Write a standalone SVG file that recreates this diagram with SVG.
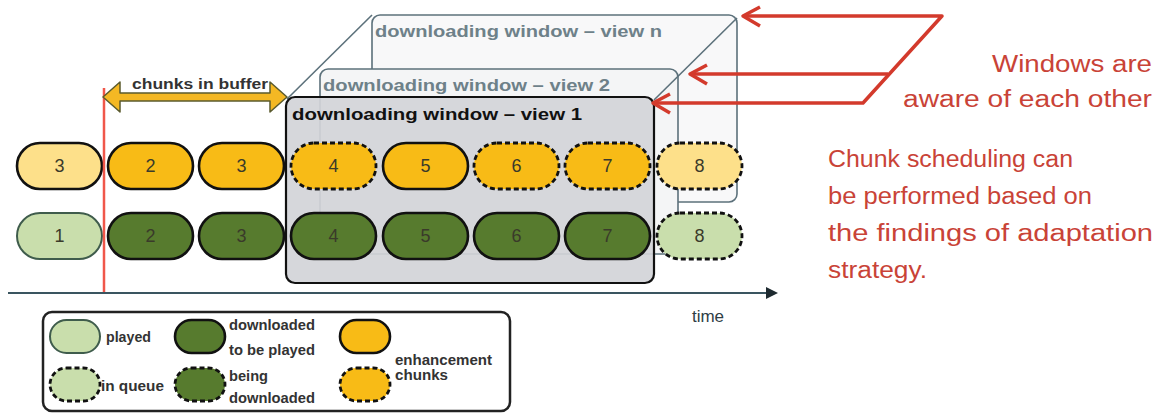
<svg xmlns="http://www.w3.org/2000/svg" width="1169" height="414" viewBox="0 0 1169 414">
<style>
.win{stroke:#5c717b;stroke-width:1.6}
.wl{font-family:"Liberation Sans",Arial,sans-serif;font-weight:bold;font-size:16px}
.num{font-family:"Liberation Sans",Arial,sans-serif;font-size:18px;fill:#3a3a2a;text-anchor:middle}
.pill{stroke:#111;stroke-width:2.6}
.dash{stroke-dasharray:5 3;stroke-width:2.8}
.ly{fill:#fde08a}.yy{fill:#f8bb16}.lg{fill:#c9deac}.dg{fill:#577b2e}
.leg{font-family:"Liberation Sans",Arial,sans-serif;font-weight:bold;font-size:15px;fill:#333}
.red{font-family:"Liberation Sans",Arial,sans-serif;font-size:23px;fill:#c94337}
.ra{stroke:#d33a2c;stroke-width:3.5;fill:none;stroke-linejoin:round}
</style>
<defs>
<marker id="ah" markerWidth="12" markerHeight="12" refX="10" refY="6" orient="auto" markerUnits="userSpaceOnUse">
<path d="M0,0 L12,6 L0,12 Z" fill="#1e2a30"/>
</marker>
</defs>
<rect width="1169" height="414" fill="#ffffff"/>

<g id="view-n">
<rect class="win" x="372" y="15" width="365" height="187" rx="8" fill="#f8f8f9"/>
<text class="wl" x="375" y="37" fill="#6e8189" textLength="287" lengthAdjust="spacingAndGlyphs">downloading window – view n</text>
</g>
<g id="view-2">
<rect class="win" x="320" y="69" width="358" height="185" rx="8" fill="#f4f5f6"/>
<text class="wl" x="323" y="91" fill="#6e8189" textLength="287" lengthAdjust="spacingAndGlyphs">downloading window – view 2</text>
</g>
<g id="edges">
<line class="win" x1="372" y1="15" x2="287" y2="99"/>
<line class="win" x1="737" y1="18" x2="654" y2="100"/>
</g>
<g id="view-1">
<rect x="286" y="97" width="368" height="186" rx="9" fill="#d2d4d8" fill-opacity="0.92" stroke="#111" stroke-width="2.2"/>
<text class="wl" x="292" y="120" fill="#111" textLength="290" lengthAdjust="spacingAndGlyphs">downloading window – view 1</text>
</g>

<g id="row-enhancement">
<rect class="pill ly" x="17" y="143" width="85" height="46" rx="23"/><text class="num" x="59.5" y="172">3</text>
<rect class="pill yy" x="108" y="143" width="85" height="46" rx="23"/><text class="num" x="150.5" y="172">2</text>
<rect class="pill yy" x="199" y="143" width="85" height="46" rx="23"/><text class="num" x="241.5" y="172">3</text>
<rect class="pill yy dash" x="291" y="143" width="85" height="46" rx="23"/><text class="num" x="333.5" y="172">4</text>
<rect class="pill yy" x="383" y="143" width="85" height="46" rx="23"/><text class="num" x="425.5" y="172">5</text>
<rect class="pill yy dash" x="474" y="143" width="85" height="46" rx="23"/><text class="num" x="516.5" y="172">6</text>
<rect class="pill yy dash" x="565" y="143" width="85" height="46" rx="23"/><text class="num" x="607.5" y="172">7</text>
<rect class="pill ly dash" x="657" y="143" width="85" height="46" rx="23"/><text class="num" x="699.5" y="172">8</text>
</g>
<g id="row-base">
<rect class="lg" x="17" y="213" width="85" height="46" rx="23" stroke="#3f5c4c" stroke-width="2"/><text class="num" x="59.5" y="242">1</text>
<rect class="pill dg" x="108" y="213" width="85" height="46" rx="23"/><text class="num" x="150.5" y="242">2</text>
<rect class="pill dg" x="199" y="213" width="85" height="46" rx="23"/><text class="num" x="241.5" y="242">3</text>
<rect class="pill dg" x="291" y="213" width="85" height="46" rx="23"/><text class="num" x="333.5" y="242">4</text>
<rect class="pill dg" x="383" y="213" width="85" height="46" rx="23"/><text class="num" x="425.5" y="242">5</text>
<rect class="pill dg" x="474" y="213" width="85" height="46" rx="23"/><text class="num" x="516.5" y="242">6</text>
<rect class="pill dg" x="565" y="213" width="85" height="46" rx="23"/><text class="num" x="607.5" y="242">7</text>
<rect class="pill lg dash" x="657" y="213" width="85" height="46" rx="23"/><text class="num" x="699.5" y="242">8</text>
</g>

<g id="connectors">
<line x1="104" y1="88" x2="104" y2="293" stroke="#f0574a" stroke-width="2.5"/>
<line x1="8" y1="293" x2="776" y2="293" stroke="#3a5560" stroke-width="2" marker-end="url(#ah)"/>
<polygon points="103,97 120,82 120,93 270,93 270,82 287,97 270,112 270,101 120,101 120,112" fill="#f4b824" stroke="#5b5b2e" stroke-width="1.5" stroke-linejoin="round"/>
<path class="ra" d="M743,16 L942,16 L863,103 L653,103"/>
<path class="ra" d="M690,74 L888,74"/>
<path class="ra" d="M760,7 L743,16 L760,26"/>
<path class="ra" d="M707,65 L690,74 L707,84"/>
<path class="ra" d="M670,94 L653,103 L670,113"/>
</g>

<g id="labels">
<text class="leg" x="132" y="89" textLength="136" lengthAdjust="spacingAndGlyphs">chunks in buffer</text>
<text x="708" y="322" font-family="Liberation Sans, Arial, sans-serif" font-size="17" fill="#2f3e46" text-anchor="middle">time</text>
</g>

<g id="notes">
<text class="red" x="1152" y="72" text-anchor="end" textLength="160" lengthAdjust="spacingAndGlyphs">Windows are</text>
<text class="red" x="1152" y="107" text-anchor="end" textLength="249" lengthAdjust="spacingAndGlyphs">aware of each other</text>
<text class="red" x="828" y="167" textLength="245" lengthAdjust="spacingAndGlyphs">Chunk scheduling can</text>
<text class="red" x="828" y="204" textLength="264" lengthAdjust="spacingAndGlyphs">be performed  based on</text>
<text class="red" x="828" y="241" textLength="325" lengthAdjust="spacingAndGlyphs">the findings of adaptation</text>
<text class="red" x="828" y="278" textLength="99" lengthAdjust="spacingAndGlyphs">strategy.</text>
</g>

<g id="legend">
<rect x="43" y="312" width="467" height="99" rx="9" fill="#fff" stroke="#222" stroke-width="2.5"/>
<rect class="lg" x="50" y="320" width="50" height="33" rx="16.5" stroke="#3f5c4c" stroke-width="2"/>
<rect class="pill lg dash" x="50" y="368" width="50" height="33" rx="16.5"/>
<rect class="pill dg" x="175" y="320" width="50" height="33" rx="16.5"/>
<rect class="pill dg dash" x="175" y="368" width="50" height="33" rx="16.5"/>
<rect class="pill yy" x="340" y="320" width="50" height="33" rx="16.5"/>
<rect class="pill yy dash" x="340" y="368" width="50" height="33" rx="16.5"/>
<text class="leg" x="106" y="342" textLength="45" lengthAdjust="spacingAndGlyphs">played</text>
<text class="leg" x="101" y="391" textLength="63" lengthAdjust="spacingAndGlyphs">in queue</text>
<text class="leg" x="229" y="330" textLength="86" lengthAdjust="spacingAndGlyphs">downloaded</text>
<text class="leg" x="229" y="355" textLength="86" lengthAdjust="spacingAndGlyphs">to be played</text>
<text class="leg" x="229" y="381" textLength="39" lengthAdjust="spacingAndGlyphs">being</text>
<text class="leg" x="229" y="403" textLength="86" lengthAdjust="spacingAndGlyphs">downloaded</text>
<text class="leg" x="395" y="365" textLength="97" lengthAdjust="spacingAndGlyphs">enhancement</text>
<text class="leg" x="395" y="380" textLength="53" lengthAdjust="spacingAndGlyphs">chunks</text>
</g>
</svg>
